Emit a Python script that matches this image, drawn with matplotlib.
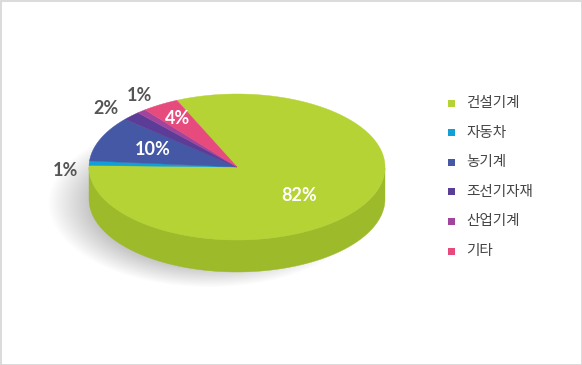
import numpy as np
import matplotlib
matplotlib.use("Agg")
import matplotlib.pyplot as plt
from matplotlib.patches import Polygon, Rectangle, Ellipse

plt.rcParams['font.family'] = ['Noto Sans CJK KR', 'DejaVu Sans']

# data
labels = ['건설기계', '자동차', '농기계', '조선기자재', '산업기계', '기타']
values = [82, 1, 10, 2, 1, 4]
top_colors = ['#b5d334', '#119fd7', '#4558a6', '#5b3c97', '#a0459b', '#e74b7e']
side_colors = ['#9dba2a', '#0d86bb', '#36478d', '#4a2f80', '#873984', '#c83c6a']
inside = [True, False, True, False, False, True]
# small nudges for the outside labels so they don't collide
nudge = [(0, 0), (-2, 8), (0, 0), (-10, 4), (12, -4), (0, 0)]

# geometry (pixels)
cx, cy = 237, 167
rx, ry = 148, 73
depth = 32
start = 114.0

fig = plt.figure(figsize=(5.82, 3.65), dpi=100)
ax = fig.add_axes([0, 0, 1, 1])
ax.set_xlim(0, 582)
ax.set_ylim(365, 0)
ax.axis('off')

# border
ax.add_patch(Rectangle((0.5, 0.5), 581, 364, fill=False, ec='#d4d4d4', lw=1.2))

def pt(t, dz=0):
    return cx + rx * np.cos(t), cy - ry * np.sin(t) + dz

# soft shadow, mostly to the lower left
for k in range(20):
    s = 1.0 - k * 0.015
    ax.add_patch(Ellipse((cx - 28, cy + depth + 4), 2 * rx * s + 24, 2 * ry * s + 22,
                         fc='#000000', ec='none', alpha=0.011, zorder=1))

# slice angles, clockwise from start
total = float(sum(values))
angles = []
a = start
for v in values:
    span = 360.0 * v / total
    angles.append((a - span, a))
    a -= span

# sides (front half only)
for (a1, a2), col in zip(angles, side_colors):
    t = np.radians(np.linspace(a1, a2, 400))
    m = np.sin(t) <= 0
    if not m.any():
        continue
    tt = t[m]
    x, y = pt(tt)
    xb, yb = pt(tt[::-1], depth)
    poly = np.column_stack([np.concatenate([x, xb]), np.concatenate([y, yb])])
    ax.add_patch(Polygon(poly, closed=True, fc=col, ec=col, lw=0.3, zorder=2))

# top faces
for (a1, a2), col in zip(angles, top_colors):
    t = np.radians(np.linspace(a1, a2, 400))
    x, y = pt(t)
    poly = np.column_stack([np.concatenate([[cx], x]), np.concatenate([[cy], y])])
    ax.add_patch(Polygon(poly, closed=True, fc=col, ec=col, lw=0.3, zorder=3))

# percent labels
for (a1, a2), v, ins, (nx, ny) in zip(angles, values, inside, nudge):
    mid = np.radians((a1 + a2) / 2)
    if ins:
        if v > 50:
            f = 0.5
        elif v < 5:
            f = 0.78
        else:
            f = 0.62
        x, y = cx + rx * f * np.cos(mid), cy - ry * f * np.sin(mid)
        if v > 50:
            y += 8
        ax.text(x, y, f'{v}%', color='white', fontsize=13, fontweight='bold',
                family=['Lato', 'DejaVu Sans'], ha='center', va='center', zorder=5)
    else:
        x, y = cx + (rx + 22) * np.cos(mid), cy - (ry + 16) * np.sin(mid)
        ax.text(x + nx, y + ny, f'{v}%', color='#555555', fontsize=13, fontweight='bold',
                family=['Lato', 'DejaVu Sans'], ha='center', va='center', zorder=5)

# legend
ly0, dy = 103, 29.6
for i, (lab, col) in enumerate(zip(labels, top_colors)):
    y = ly0 + i * dy
    ax.add_patch(Rectangle((448, y - 3.5), 7, 7, fc=col, ec='none', zorder=5))
    ax.text(466, y, lab, color='#444444', fontsize=10.5, ha='left', va='center', zorder=5)

fig.savefig('out.png', dpi=100)
